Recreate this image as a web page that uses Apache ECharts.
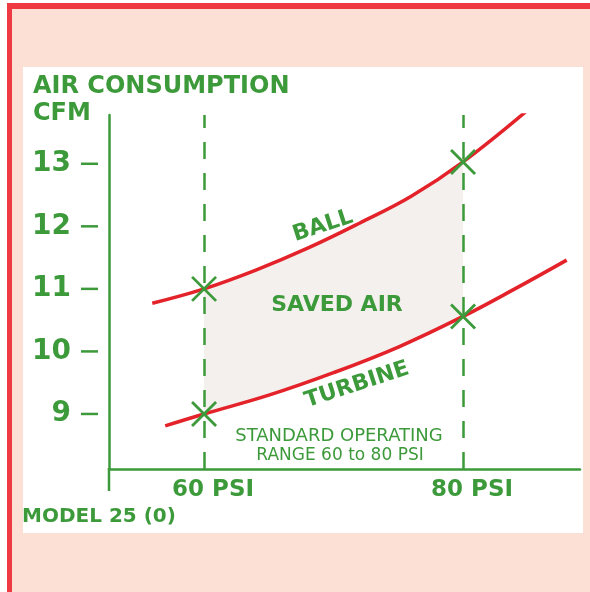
<!DOCTYPE html>
<html><head><meta charset="utf-8">
<script src="https://cdn.jsdelivr.net/npm/echarts@6/dist/echarts.min.js"></script>
<style>html,body{margin:0;padding:0;background:#fff}#c{width:590px;height:592px}</style>
</head><body><div id="c"></div><script>
// ---- data ----
const psiTicks = [60, 80];
const psiTickLabels = ['60 PSI', '80 PSI'];
const cfmTicks = [9, 10, 11, 12, 13];
const ballPsi = [56, 60, 64, 68, 72, 76, 80, 85];
const ballCfm = [10.77, 11, 11.3, 11.65, 12.05, 12.48, 13.03, 13.86];
const turbinePsi = [57, 60, 65, 70, 75, 80, 84, 88];
const turbineCfm = [8.81, 9, 9.3, 9.66, 10.07, 10.56, 11.0, 11.46];
const rangePsi = [60, 80];

const GREEN = '#3c9a3a', RED = '#e3222a', FONT = 'DejaVu Sans';
const zip = (a, b) => a.map((v, i) => [v, b[i]]);
const ball = zip(ballPsi, ballCfm);
const turbine = zip(turbinePsi, turbineCfm);
const inRange = p => p[0] >= rangePsi[0] && p[0] <= rangePsi[1];
const areaPoly = ball.filter(inRange).concat(turbine.filter(inRange).reverse());
const markers = ball.concat(turbine).filter(p => psiTicks.includes(p[0]));

const chart = echarts.init(document.getElementById('c'));
chart.setOption({
  backgroundColor: '#fff',
  animation: false,
  grid: { left: 109, top: 115, right: 10, bottom: 123 },
  xAxis: {
    type: 'value', min: 52.66, max: 89.03,
    splitLine: { show: false },
    axisLine: { lineStyle: { color: GREEN, width: 2.5 } },
    axisTick: { show: false },
    axisLabel: {
      customValues: psiTicks, margin: 10, padding: [0, 0, 0, 18],
      formatter: v => psiTickLabels[psiTicks.indexOf(v)],
      color: GREEN, fontFamily: FONT, fontWeight: 'bold', fontSize: 23
    }
  },
  yAxis: {
    type: 'value', min: 8.12, max: 13.78,
    splitLine: { show: false },
    axisLine: { show: true, lineStyle: { color: GREEN, width: 2.5 } },
    axisTick: { show: false },
    axisLabel: {
      customValues: cfmTicks, margin: 11,
      formatter: v => '{n|' + v + '}{d|}',
      rich: {
        n: { color: GREEN, fontFamily: FONT, fontWeight: 'bold', fontSize: 28, padding: [0, 10, 0, 0], verticalAlign: 'middle' },
        d: { width: 17, height: 2.5, backgroundColor: GREEN, verticalAlign: 'middle' }
      }
    }
  },
  title: {
    text: 'AIR CONSUMPTION\nCFM', left: 28, top: 68,
    textStyle: { color: GREEN, fontFamily: FONT, fontWeight: 'bold', fontSize: 24, lineHeight: 27 }
  },
  graphic: [
    { type: 'rect', z: -100, silent: true, shape: { x: 7, y: 3, width: 583, height: 589 }, style: { fill: '#ee3b43' } },
    { type: 'rect', z: -99, silent: true, shape: { x: 12, y: 9, width: 578, height: 583 }, style: { fill: '#fcdfd5' } },
    { type: 'rect', z: -98, silent: true, shape: { x: 23, y: 67, width: 560, height: 466 }, style: { fill: '#ffffff' } },
    { type: 'line', z: 5, silent: true, shape: { x1: 109, y1: 468, x2: 109, y2: 491 }, style: { stroke: GREEN, lineWidth: 2.5 } },
    { type: 'text', z: 10, left: 22, top: 507, style: { text: 'MODEL 25 (0)', fill: GREEN, font: 'bold 20px "DejaVu Sans"' } },
    { type: 'text', z: 10, x: 323, y: 226, rotation: 18 * Math.PI / 180, style: { text: 'BALL', fill: GREEN, font: 'bold 22px "DejaVu Sans"', align: 'center', verticalAlign: 'middle' } },
    { type: 'text', z: 10, x: 337, y: 305, style: { text: 'SAVED AIR', fill: GREEN, font: 'bold 22px "DejaVu Sans"', align: 'center', verticalAlign: 'middle' } },
    { type: 'text', z: 10, x: 357, y: 385, rotation: 18 * Math.PI / 180, style: { text: 'TURBINE', fill: GREEN, font: 'bold 22px "DejaVu Sans"', align: 'center', verticalAlign: 'middle' } },
    { type: 'text', z: 10, x: 339, y: 436, style: { text: 'STANDARD OPERATING', fill: GREEN, font: '18px "DejaVu Sans"', align: 'center', verticalAlign: 'middle' } },
    { type: 'text', z: 10, x: 340, y: 456, style: { text: 'RANGE 60 to 80 PSI', fill: GREEN, font: '17px "DejaVu Sans"', align: 'center', verticalAlign: 'middle' } }
  ],
  series: [
    {
      type: 'custom', z: 1, silent: true,
      data: [0],
      renderItem: (params, api) => ({
        type: 'polygon',
        shape: { points: areaPoly.map(p => api.coord(p)) },
        style: { fill: '#f3f0ee' }
      })
    },
    {
      type: 'line', name: 'BALL', data: ball, smooth: 0.4, symbol: 'none', z: 3,
      lineStyle: { color: RED, width: 3.5 },
      markLine: {
        silent: true, symbol: 'none', label: { show: false },
        lineStyle: { color: GREEN, width: 2.5, type: [17, 14] },
        data: rangePsi.map(v => ({ xAxis: v }))
      }
    },
    {
      type: 'line', name: 'TURBINE', data: turbine, smooth: 0.4, symbol: 'none', z: 3,
      lineStyle: { color: RED, width: 3.5 }
    },
    {
      type: 'custom', z: 4, silent: true,
      data: markers,
      renderItem: (params, api) => {
        const c = api.coord([api.value(0), api.value(1)]);
        const r = 12;
        const st = { stroke: GREEN, lineWidth: 2.8 };
        return {
          type: 'group', children: [
            { type: 'line', shape: { x1: c[0] - r, y1: c[1] - r, x2: c[0] + r, y2: c[1] + r }, style: st },
            { type: 'line', shape: { x1: c[0] - r, y1: c[1] + r, x2: c[0] + r, y2: c[1] - r }, style: st }
          ]
        };
      }
    }
  ]
});
</script></body></html>
